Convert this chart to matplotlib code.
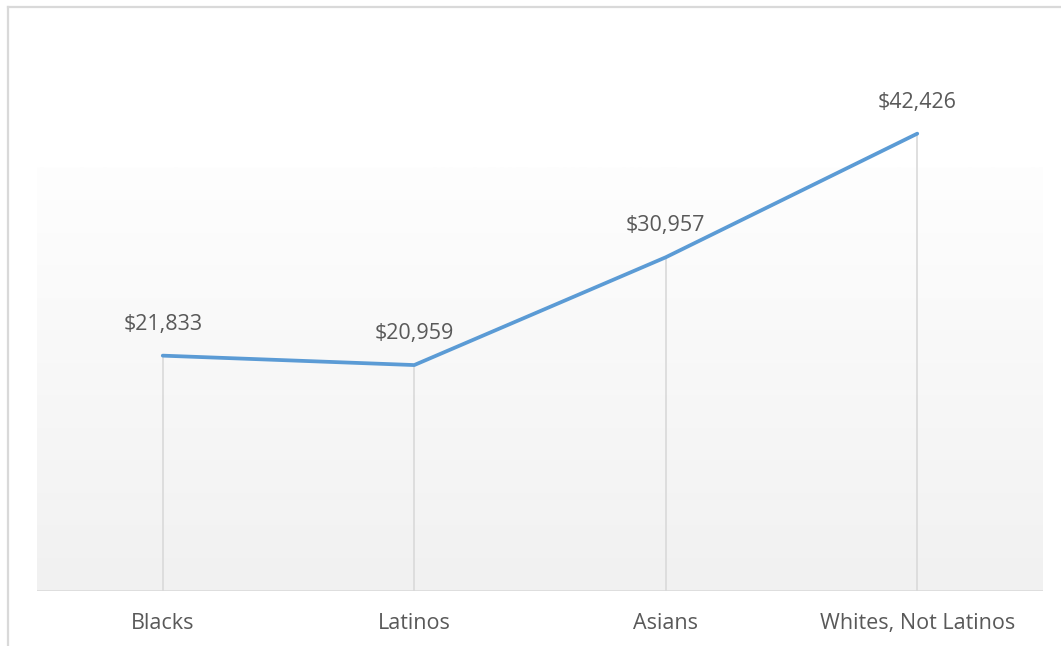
import matplotlib.pyplot as plt
import numpy as np
from matplotlib.colors import LinearSegmentedColormap
from matplotlib.lines import Line2D

groups = ["Blacks", "Latinos", "Asians", "Whites, Not Latinos"]
income = [21833, 20959, 30957, 42426]
value_labels = ["$21,833", "$20,959", "$30,957", "$42,426"]

W, H = 1061, 646
fig = plt.figure(figsize=(W / 100, H / 100), dpi=100)
plt.rcParams['font.family'] = ['Open Sans', 'DejaVu Sans']

# chart frame (only left and top edges fall inside the image)
fig.add_artist(Line2D([8 / W, 8 / W], [0, 1 - 7 / H], color='#d9d9d9', lw=1.6))
fig.add_artist(Line2D([8 / W, 1], [1 - 7 / H, 1 - 7 / H], color='#d9d9d9', lw=1.6))

top_px = 52
ax = fig.add_axes([37 / W, (H - 591) / H, (1043 - 37) / W, (591 - top_px) / H])
ax.set_xlim(-0.5, len(groups) - 0.5)
ax.set_ylim(0, 50000)

# plot area gradient
grad_top = 39250
cmap = LinearSegmentedColormap.from_list('bg', ['#f1f1f1', '#fefefe'])
ax.imshow(np.linspace(0, 1, 256).reshape(-1, 1), cmap=cmap, aspect='auto',
          origin='lower', extent=[-0.5, len(groups) - 0.5, 0, grad_top], zorder=0)

x = np.arange(len(groups))
ax.vlines(x, 0, income, color='#d9d9d9', lw=1.2, zorder=1)
ax.plot(x, income, color='#5b9bd5', lw=2.7, solid_capstyle='round', zorder=3, clip_on=False)

fs = 15.5
for xi, v, lab in zip(x, income, value_labels):
    ax.annotate(lab, (xi, v), xytext=(0, 15), textcoords='offset points',
                ha='center', va='bottom', fontsize=fs, color='#595959')

ax.axhline(0, color='#d9d9d9', lw=1.8, zorder=2)
for s in ax.spines.values():
    s.set_visible(False)
ax.set_yticks([])
ax.set_xticks(x)
ax.set_xticklabels(groups, fontsize=fs, color='#595959')
ax.tick_params(axis='x', length=0, pad=16)

fig.savefig('out.png', dpi=100)
